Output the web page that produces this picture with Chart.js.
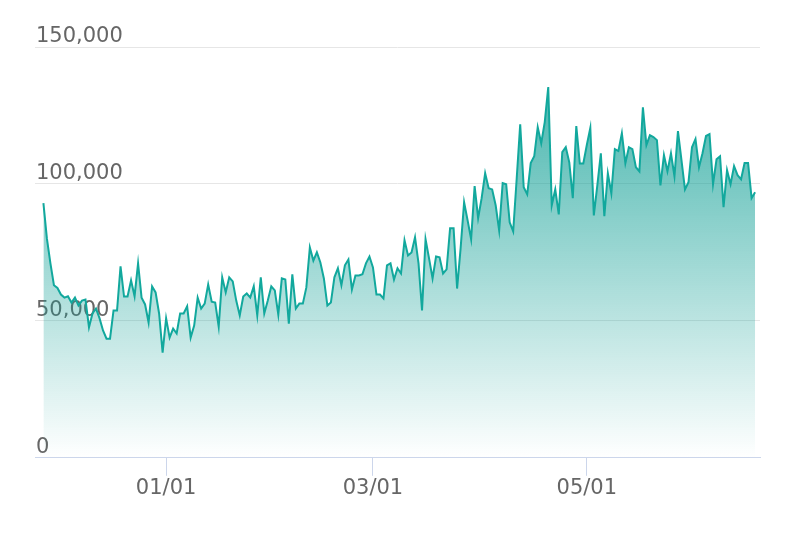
<!DOCTYPE html>
<html>
<head>
<meta charset="utf-8">
<script src="https://cdn.jsdelivr.net/npm/chart.js@4.4.1/dist/chart.umd.min.js"></script>
<style>
  html, body { margin: 0; padding: 0; background: #fff; }
  #wrap { width: 786px; height: 540px; }
</style>
</head>
<body>
<div id="wrap"><canvas id="areaChart"></canvas></div>
<script>
// daily values, starting 27 Nov
var dailyValues = [
  93000, 80000, 71000, 63000, 62000, 59600, 58500, 59000, 56700, 58500,
  55600, 57400, 57800, 47600, 52700, 54500, 51000, 46500, 43500, 43500,
  53800, 53800, 69900, 58900, 58900, 64800, 59000, 71000, 58500, 56000,
  49400, 62600, 60400, 52700, 38400, 50900, 43900, 47200, 45400, 52700,
  52700, 55300, 43900, 48300, 58500, 54500, 56300, 63300, 57000, 56700,
  47900, 65900, 60400, 65900, 64400, 57400, 52000, 58900, 60000, 58500,
  62600, 52000, 65900, 52700, 57400, 62600, 61100, 52300, 65500, 65100,
  49000, 67000, 54500, 56300, 56300, 62200, 76800, 72000, 75000, 71300,
  65500, 55600, 56700, 65900, 69200, 63000, 70300, 72400, 61500, 66600,
  66600, 67000, 71000, 73500, 69500, 59600, 59600, 58200, 70300, 71000,
  65100, 69200, 67300, 79400, 73900, 75000, 80500, 71000, 53800, 79800,
  72800, 65500, 73500, 73200, 67300, 68800, 83800, 83800, 61800, 76500,
  93300, 86700, 79800, 99200, 87500, 94800, 103900, 98400, 98000, 92200,
  83000, 100300, 99900, 86000, 82700, 102000, 121800, 98800, 96200, 107600,
  110100, 120700, 114900, 122600, 135400, 92200, 98000, 88900, 111600, 113400,
  107900, 94800, 121100, 107500, 107500, 114200, 120400, 88500, 99500, 111200,
  88200, 103900, 96600, 112700, 112000, 118500, 107600, 113400, 112700, 106100,
  104600, 128000, 114200, 117800, 117100, 116000, 99500, 110500, 104600, 111200,
  102800, 119300, 108700, 98000, 100600, 113400, 116400, 106100, 111200, 117500,
  118200, 99900, 109000, 110100, 91500, 105000, 99900, 106500, 103200, 101700,
  107600, 107600, 94800, 97000
];
var tickLabels = ["01/01", "03/01", "05/01"];
var tickDays = [35, 94, 155];   // day index of each tick label
var yTicks = [0, 50000, 100000, 150000];

var lineColor = "#12a89d";
var points = dailyValues.map(function (v, i) { return { x: i, y: v }; });

var ctx = document.getElementById("areaChart").getContext("2d");
var areaChart = new Chart(ctx, {
  type: "line",
  data: {
    datasets: [
      {
        data: points,
        borderColor: lineColor,
        borderWidth: 2,
        pointRadius: 0,
        tension: 0,
        fill: "origin",
        backgroundColor: function (context) {
          var area = context.chart.chartArea;
          if (!area) return "rgba(18,168,157,0.5)";
          var g = context.chart.ctx.createLinearGradient(0, area.top, 0, area.bottom);
          g.addColorStop(0, "rgba(18,160,150,0.85)");
          g.addColorStop(1, "rgba(18,160,150,0)");
          return g;
        },
      },
    ],
  },
  options: {
    responsive: true,
    maintainAspectRatio: false,
    animation: false,
    layout: { padding: { left: 33, right: 26, top: 47, bottom: 39 } },
    plugins: { legend: { display: false }, tooltip: { enabled: false } },
    scales: {
      x: {
        type: "linear",
        min: -2.4,
        max: 204.4,
        afterBuildTicks: function (scale) {
          scale.ticks = tickDays.map(function (d) { return { value: d }; });
        },
        grid: { drawOnChartArea: false, tickLength: 18, color: "#ccd6eb" },
        border: { color: "#ccd6eb" },
        ticks: {
          autoSkip: false,
          maxRotation: 0,
          padding: 0,
          color: "#666666",
          font: { family: "DejaVu Sans", size: 21 },
          callback: function (value) {
            var i = tickDays.indexOf(value);
            return i >= 0 ? tickLabels[i] : "";
          },
        },
      },
      y: {
        min: 0,
        max: 150000,
        afterBuildTicks: function (scale) {
          scale.ticks = yTicks.map(function (v) { return { value: v }; });
        },
        grid: { color: "#e6e6e6", drawTicks: false },
        border: { display: false },
        ticks: {
          mirror: true,
          padding: 1,
          labelOffset: -10,
          color: "#666666",
          font: { family: "DejaVu Sans", size: 21 },
          callback: function (value) { return value.toLocaleString("en-US"); },
        },
      },
    },
  },
});
</script>
</body>
</html>
